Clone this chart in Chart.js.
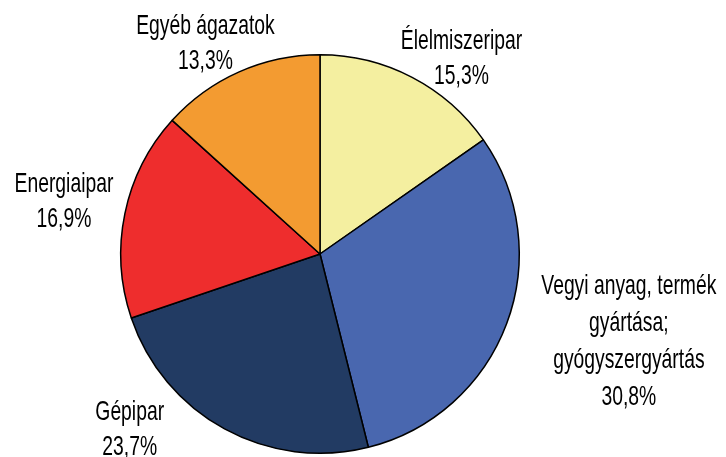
<!DOCTYPE html>
<html>
<head>
<meta charset="utf-8">
<script src="https://cdn.jsdelivr.net/npm/chart.js@4/dist/chart.umd.min.js"></script>
<style>
  html, body { margin: 0; padding: 0; background: #fff; }
  #wrap { width: 726px; height: 457px; }
</style>
</head>
<body>
<div id="wrap"><canvas id="myChart" width="726" height="457"></canvas></div>
<script>
const categories = [
  "Élelmiszeripar",
  ["Vegyi anyag, termék", "gyártása;", "gyógyszergyártás"],
  "Gépipar",
  "Energiaipar",
  "Egyéb ágazatok"
];
const shares = [15.3, 30.8, 23.7, 16.9, 13.3];
const colors = ["#F4EFA0", "#4967AF", "#223B63", "#EE2D2D", "#F39B31"];

// label centre, relative to the pie centre, in units of the radius
const labelPos = [
  [0.71, -0.98],
  [1.55, 0.44],
  [-0.955, 0.88],
  [-1.285, -0.26],
  [-0.575, -1.055]
];

// the original uses a condensed face; squeeze Liberation Sans to match
const labelFont = '28px "Liberation Sans", Arial, sans-serif';
const squeeze = 0.69;

const outsideLabels = {
  id: "outsideLabels",
  afterDraw(chart) {
    const ctx = chart.ctx;
    const arcs = chart.getDatasetMeta(0).data;
    ctx.save();
    ctx.font = labelFont;
    ctx.fillStyle = "#000";
    ctx.textAlign = "center";
    ctx.textBaseline = "middle";
    arcs.forEach((arc, i) => {
      const r = arc.outerRadius;
      const cx = arc.x + labelPos[i][0] * r;
      const cy = arc.y + labelPos[i][1] * r;
      let lines = [].concat(categories[i]);
      lines.push(shares[i].toFixed(1).replace(".", ",") + "%");
      const step = lines.length > 2 ? 37 : 35;
      const top = cy - (lines.length - 1) * step / 2;
      lines.forEach((t, k) => {
        ctx.save();
        ctx.translate(cx, top + k * step);
        ctx.scale(squeeze, 1);
        ctx.fillText(t, 0, 0);
        ctx.restore();
      });
    });
    ctx.restore();
  }
};

new Chart(document.getElementById("myChart"), {
  type: "pie",
  data: {
    labels: categories.map(c => [].concat(c).join(" ")),
    datasets: [{
      data: shares,
      backgroundColor: colors,
      borderColor: "#000",
      borderWidth: 1.5
    }]
  },
  options: {
    responsive: false,
    animation: false,
    layout: { padding: { left: 120, right: 206, top: 54, bottom: 3 } },
    plugins: {
      legend: { display: false },
      tooltip: { enabled: false }
    }
  },
  plugins: [outsideLabels]
});
</script>
</body>
</html>
